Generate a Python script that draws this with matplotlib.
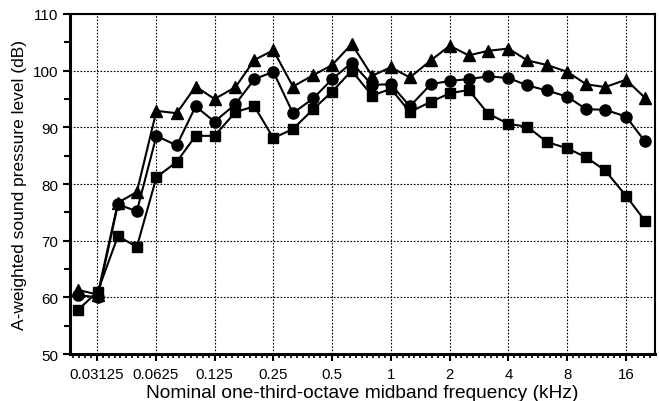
import numpy as np
import matplotlib
matplotlib.use("Agg")
import matplotlib.pyplot as plt
from matplotlib.ticker import FixedLocator, NullFormatter

plt.rcParams['font.family'] = ['Liberation Sans', 'DejaVu Sans']

# Nominal one-third-octave midband frequencies (kHz)
freqs = [0.025, 0.0315, 0.040, 0.050, 0.063, 0.080, 0.100, 0.125, 0.160, 0.200,
         0.250, 0.315, 0.400, 0.500, 0.630, 0.800, 1.0, 1.25, 1.6, 2.0,
         2.5, 3.15, 4.0, 5.0, 6.3, 8.0, 10.0, 12.5, 16.0, 20.0]

triangles = [61.3, 60.5, 76.7, 78.6, 92.9, 92.5, 97.2, 95.0, 97.1, 101.9,
             103.6, 97.2, 99.2, 101.0, 104.7, 99.1, 100.6, 98.8, 101.8, 104.4,
             102.7, 103.5, 103.9, 101.8, 101.0, 99.8, 97.6, 97.1, 98.4, 95.2]

circles = [60.4, 60.0, 76.4, 75.2, 88.5, 86.8, 93.7, 91.0, 94.1, 98.5,
           99.8, 92.5, 95.1, 98.5, 101.4, 97.5, 97.6, 93.7, 97.6, 98.2,
           98.5, 99.0, 98.7, 97.4, 96.5, 95.4, 93.2, 93.1, 91.9, 87.5]

squares = [57.8, 61.0, 70.8, 68.9, 81.2, 83.9, 88.5, 88.5, 92.7, 93.7,
           88.1, 89.7, 93.2, 96.3, 100.0, 95.6, 96.8, 92.7, 94.5, 96.0,
           96.6, 92.4, 90.6, 90.1, 87.4, 86.3, 84.7, 82.4, 77.9, 73.5]

xticks = [0.03125, 0.0625, 0.125, 0.25, 0.5, 1, 2, 4, 8, 16]
xticklabels = ['0.03125', '0.0625', '0.125', '0.25', '0.5', '1', '2', '4', '8', '16']
yticks = [50, 60, 70, 80, 90, 100, 110]

fig = plt.figure(figsize=(6.59, 4.02), dpi=100)
ax = fig.add_axes([0.1062, 0.1169, 0.8877, 0.8458])

ax.set_xscale('log', base=2)
ax.set_xlim(0.02273, 22.5)
ax.set_ylim(50, 110)

ax.plot(freqs, squares, color='black', lw=1.5, marker='s', ms=7.5, zorder=3)
ax.plot(freqs, circles, color='black', lw=1.5, marker='o', ms=8, zorder=3)
ax.plot(freqs, triangles, color='black', lw=1.5, marker='^', ms=8.5, zorder=3)

ax.xaxis.set_major_locator(FixedLocator(xticks))
ax.set_xticklabels(xticklabels)
minor = []
for e in range(-6, 5):
    for k in range(1, 10):
        v = 2.0 ** (e + k / 10.0)
        if 0.02273 <= v <= 22.5:
            minor.append(v)
ax.xaxis.set_minor_locator(FixedLocator(minor))
ax.xaxis.set_minor_formatter(NullFormatter())

ax.set_yticks(yticks)
ax.yaxis.set_minor_locator(FixedLocator([55, 65, 75, 85, 95, 105]))

ax.grid(True, which='major', linestyle=(0, (1.5, 1.5)), color='black', lw=0.8)

ax.tick_params(axis='both', which='major', direction='out', length=5, width=1.5,
               labelsize=11, colors='black')
ax.tick_params(axis='x', which='major', labelsize=10.8, pad=4.5)
ax.tick_params(axis='x', which='minor', direction='out', length=3, width=1.2)
ax.tick_params(axis='y', which='minor', direction='out', length=4, width=1.5)

for s in ax.spines.values():
    s.set_linewidth(1.5)
ax.spines['left'].set_linewidth(2.2)
ax.spines['bottom'].set_linewidth(2.2)

ax.set_xlabel('Nominal one-third-octave midband frequency (kHz)', fontsize=13.8)
ax.xaxis.set_label_coords(0.5, -0.087)
ax.set_ylabel('A-weighted sound pressure level (dB)', fontsize=12.5, labelpad=4)

fig.savefig('out.png', dpi=100)
